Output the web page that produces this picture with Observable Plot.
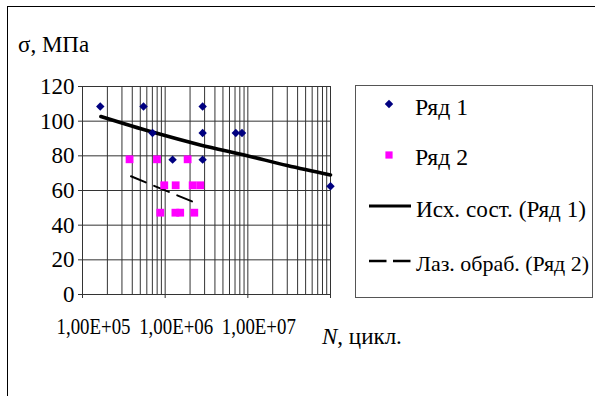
<!DOCTYPE html>
<html><head><meta charset="utf-8">
<script src="https://cdn.jsdelivr.net/npm/d3@7"></script>
<script src="https://cdn.jsdelivr.net/npm/@observablehq/plot@0.6"></script>
<style>
html,body{margin:0;padding:0;background:#fff;}
#wrap{position:relative;width:595px;height:396px;overflow:hidden;font-family:"Liberation Serif","Times New Roman",Times,serif;color:#000;}
#frame{position:absolute;left:7px;top:6px;right:-3px;bottom:-3px;border-top:1px solid #000;border-left:1px solid #000;}
#chart{position:absolute;left:0;top:0;}
.lbl{position:absolute;font-size:23px;white-space:nowrap;line-height:1;}
#legend{position:absolute;left:355px;top:85px;}
svg, svg text{font-family:"Liberation Serif","Times New Roman",Times,serif !important;}
</style></head><body>
<div id="wrap">
  <div id="frame"></div>
  <div id="chart"></div>
  <div class="lbl" style="left:18px;top:33px;">σ, МПа</div>
  <div class="lbl" style="left:322px;top:325px;"><i>N</i>, цикл.</div>
  <div id="legend"></div>
</div>
<script>
// Ряд 1 (исходное состояние)
const s1N = [1.64e5, 5.47e5, 7.03e5, 1.23e6, 2.84e6, 2.84e6, 2.84e6, 7.15e6, 8.5e6, 1.0e8];
const s1S = [108.5, 108.5, 93.2, 77.8, 108.5, 93.2, 77.8, 93.2, 93.2, 62.5];
// Ряд 2 (лазерная обработка)
const s2N = [3.71e5, 7.96e5, 1.87e6, 9.75e5, 1.34e6, 2.15e6, 2.66e6, 8.73e5, 1.33e6, 1.52e6, 2.25e6];
const s2S = [78, 78, 78, 63, 63, 63, 63, 47.2, 47.2, 47.2, 47.2];
// Линии тренда
const t1N = [1.67e5, 7.0e5, 2.66e6, 9.8e6, 3.0e7, 1.0e8];
const t1S = [102.7, 93.7, 86.3, 80.1, 74.4, 69.0];
const t2N = [3.86e5, 2.21e6];
const t2S = [68.2, 53.3];
// Оси
const xDomain = [1e5, 1e8];
const xMajor = [1e5, 1e6, 1e7, 1e8];
const xLabelTicks = [1e5, 1e6, 1e7];
const xLabels = ["1,00E+05", "1,00E+06", "1,00E+07"];
const yTicks = [0, 20, 40, 60, 80, 100, 120];
const legendLabels = ["Ряд 1", "Ряд 2", "Исх. сост. (Ряд 1)", "Лаз. обраб. (Ряд 2)"];

const FONT = '"Liberation Serif","Times New Roman",Times,serif';
const zip = (xs, ys) => xs.map((x, i) => ({x, y: ys[i]}));
const s1 = zip(s1N, s1S), s2 = zip(s2N, s2S), t1 = zip(t1N, t1S), t2 = zip(t2N, t2S);
const xGrid = d3.scaleLog().domain(xDomain).ticks();
const xLab = xLabelTicks.map((x, i) => ({x, t: xLabels[i]}));

const chart = Plot.plot({
  width: 595, height: 396,
  marginLeft: 82, marginRight: 265, marginTop: 86, marginBottom: 102,
  style: {fontFamily: FONT, fontSize: "23px", background: "transparent", color: "#000", overflow: "visible"},
  x: {type: "log", domain: xDomain},
  y: {domain: [0, 120]},
  marks: [
    Plot.ruleX(xGrid, {stroke: "#333", strokeWidth: 1}),
    Plot.ruleY(yTicks, {stroke: "#333", strokeWidth: 1}),
    Plot.axisY({ticks: yTicks, tickSize: 4, tickPadding: 4, label: null, stroke: "#333"}),
    Plot.axisX({ticks: xMajor, tickSize: 4, tickFormat: () => "", label: null, stroke: "#333"}),
    Plot.text(xLab, {x: "x", text: "t", frameAnchor: "bottom", lineAnchor: "top", dy: 23, dx: 11}),
    Plot.line(t1, {x: "x", y: "y", stroke: "#000", strokeWidth: 3.6, curve: "monotone-x"}),
    Plot.line(t2, {x: "x", y: "y", stroke: "#000", strokeWidth: 2, strokeDasharray: "16,9"}),
    Plot.dot(s1, {x: "x", y: "y", symbol: "diamond2", fill: "#000080", r: 3.8}),
    Plot.dot(s2, {x: "x", y: "y", symbol: "square", fill: "#ff00ff", r: 4.4})
  ]
});
d3.select(chart).selectAll('g[aria-label="text"] text')
  .attr("textLength", 74).attr("lengthAdjust", "spacingAndGlyphs");
document.getElementById("chart").appendChild(chart);

// Легенда
const W = 237, H = 212;
const lg = d3.select("#legend").append("svg").attr("width", W + 2).attr("height", H + 2)
  .style("font-family", FONT).style("font-size", "23px");
lg.append("rect").attr("x", 0.5).attr("y", 0.5).attr("width", W).attr("height", H)
  .attr("fill", "#fff").attr("stroke", "#555");
const rows = [19, 70, 121, 176];
const base = [30, 80, 132, 186];
const widths = [53, 53, 170, 173];
const sizes = [23, 23, 22.5, 21.2];
lg.append("path").attr("d", d3.symbol(d3.symbolDiamond2, 3.8 * 3.8 * Math.PI)()).attr("transform", `translate(34,${rows[0]})`).attr("fill", "#000080");
lg.append("rect").attr("x", 34 - 3.6).attr("y", rows[1] - 3.6).attr("width", 7.2).attr("height", 7.2).attr("fill", "#ff00ff");
lg.append("line").attr("x1", 14).attr("x2", 56).attr("y1", rows[2]).attr("y2", rows[2]).attr("stroke", "#000").attr("stroke-width", 3);
lg.append("line").attr("x1", 14).attr("x2", 56).attr("y1", rows[3]).attr("y2", rows[3]).attr("stroke", "#000").attr("stroke-width", 2.5).attr("stroke-dasharray", "17.5,6.5");
legendLabels.forEach((t, i) => {
  lg.append("text").attr("x", i < 2 ? 60 : 61).attr("y", base[i]).style("font-size", sizes[i] + "px")
    .attr("textLength", widths[i]).attr("lengthAdjust", "spacingAndGlyphs").text(t);
});
</script>
</body></html>
